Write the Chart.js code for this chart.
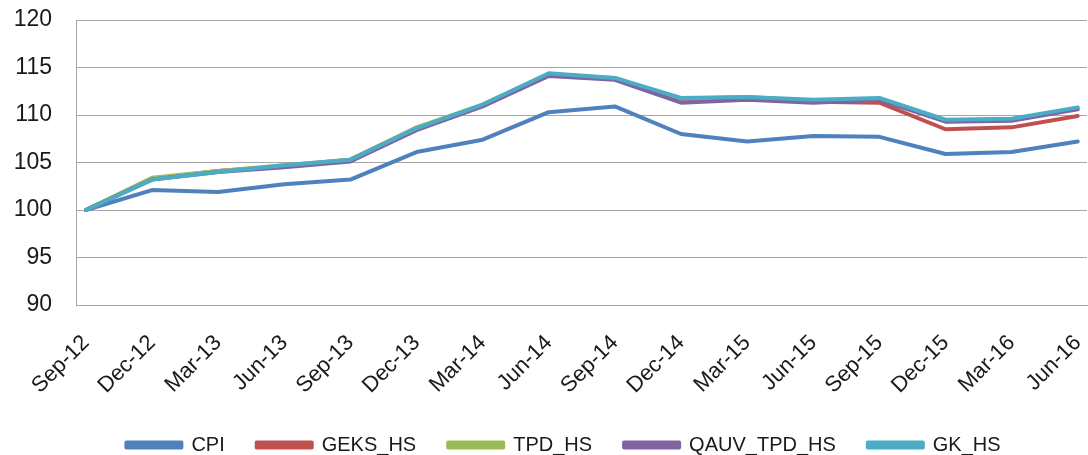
<!DOCTYPE html>
<html>
<head>
<meta charset="utf-8">
<script src="https://cdn.jsdelivr.net/npm/chart.js@4"></script>
<style>
  html, body { margin: 0; padding: 0; background: #fff; }
  #wrap { width: 1088px; height: 455px; position: relative; }
</style>
</head>
<body>
<div id="wrap"><canvas id="c" width="1088" height="455"></canvas></div>
<script>
const categories = ['Sep-12','Dec-12','Mar-13','Jun-13','Sep-13','Dec-13','Mar-14','Jun-14','Sep-14','Dec-14','Mar-15','Jun-15','Sep-15','Dec-15','Mar-16','Jun-16'];
const cpi  = [100, 102.1, 101.9, 102.7, 103.2, 106.1, 107.4, 110.3, 110.9, 108.0, 107.2, 107.8, 107.7, 105.9, 106.1, 107.2];
const geks = [100, 103.3, 104.1, 104.6, 105.3, 108.6, 111.0, 114.3, 113.8, 111.6, 111.8, 111.4, 111.3, 108.5, 108.7, 109.9];
const tpd  = [100, 103.4, 104.1, 104.7, 105.3, 108.7, 111.1, 114.3, 113.9, 111.7, 111.9, 111.5, 111.7, 109.4, 109.5, 110.7];
const qauv = [100, 103.2, 104.0, 104.5, 105.1, 108.4, 110.9, 114.1, 113.7, 111.3, 111.6, 111.3, 111.6, 109.3, 109.4, 110.6];
const gk   = [100, 103.2, 104.0, 104.7, 105.3, 108.6, 111.1, 114.4, 113.9, 111.8, 111.9, 111.6, 111.8, 109.5, 109.6, 110.8];
const yTicks = [90, 95, 100, 105, 110, 115, 120];

const seriesNames = ['CPI', 'GEKS_HS', 'TPD_HS', 'QAUV_TPD_HS', 'GK_HS'];
const seriesValues = [cpi, geks, tpd, qauv, gk];
const seriesColors = ['#4F81BD', '#C0504D', '#9BBB59', '#8064A2', '#4BACC6'];

const toPoints = arr => arr.map((v, i) => ({ x: i, y: v }));

const datasets = seriesNames.map((name, k) => ({
  label: name,
  data: toPoints(seriesValues[k]),
  borderColor: seriesColors[k],
  backgroundColor: seriesColors[k],
  borderWidth: 4,
  pointRadius: 0,
  tension: 0,
  borderCapStyle: 'round',
  borderJoinStyle: 'round',
  fill: false,
  order: seriesNames.length - k
}));

new Chart(document.getElementById('c'), {
  type: 'line',
  data: { datasets },
  options: {
    responsive: false,
    animation: false,
    layout: { padding: { top: 20, right: -39, left: 0, bottom: -10 } },
    plugins: {
      tooltip: { enabled: false },
      legend: {
        position: 'bottom',
        labels: {
          sort: (a, b) => a.datasetIndex - b.datasetIndex,
          boxWidth: 55,
          boxHeight: 5,
          padding: 32,
          color: '#1a1a1a',
          font: { family: 'Liberation Sans', size: 20 }
        }
      }
    },
    scales: {
      x: {
        type: 'linear',
        min: -0.15,
        max: 15.14,
        afterBuildTicks: (scale) => {
          scale.ticks = categories.map((_, i) => ({ value: i }));
        },
        afterFit: (scale) => {
          scale.height = 98;
          scale.paddingLeft = 0;
          scale.paddingRight = 1;
        },
        grid: { display: false },
        border: { display: true, color: '#a6a6a6', width: 1 },
        ticks: {
          autoSkip: false,
          maxRotation: 45,
          minRotation: 45,
          padding: 17,
          color: '#1a1a1a',
          font: { family: 'Liberation Sans', size: 22 },
          callback: (v) => categories[Math.round(v)]
        }
      },
      y: {
        min: 90,
        max: 120,
        afterBuildTicks: (scale) => {
          scale.ticks = yTicks.map(v => ({ value: v }));
        },
        afterFit: (scale) => {
          scale.width = 76;
          scale.paddingTop = 0;
          scale.paddingBottom = 0;
        },
        grid: { color: '#a6a6a6', lineWidth: 1, drawTicks: false },
        border: { display: true, color: '#a6a6a6', width: 1 },
        ticks: {
          padding: 24,
          color: '#1a1a1a',
          font: { family: 'Liberation Sans', size: 23 }
        }
      }
    }
  }
});
</script>
</body>
</html>
